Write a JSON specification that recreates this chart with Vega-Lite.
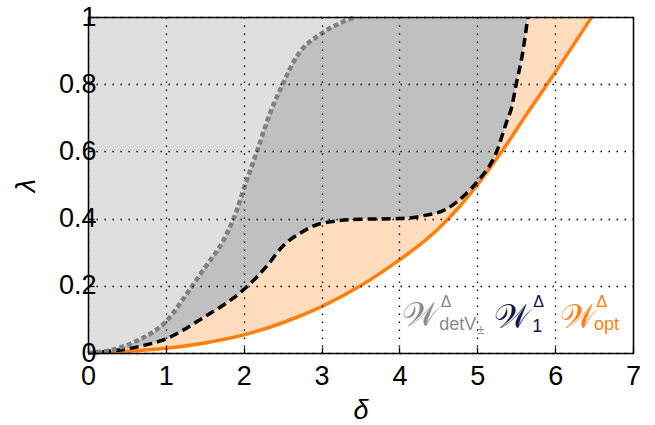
{
  "$schema": "https://vega.github.io/schema/vega-lite/v6.json",
  "width": 545,
  "height": 336,
  "autosize": {"type": "none"},
  "padding": {"left": 88, "top": 17, "right": 22, "bottom": 72},
  "background": "white",
  "config": {"view": {"stroke": null}, "font": "Liberation Sans"},
  "datasets": {
    "opt": [
      {"d": 0, "l": 0}, {"d": 0.5, "l": 0.005}, {"d": 1, "l": 0.014}, {"d": 1.5, "l": 0.03},
      {"d": 2, "l": 0.054}, {"d": 2.5, "l": 0.09}, {"d": 3, "l": 0.138}, {"d": 3.5, "l": 0.2},
      {"d": 4, "l": 0.277}, {"d": 4.25, "l": 0.32}, {"d": 4.5, "l": 0.37}, {"d": 4.75, "l": 0.43},
      {"d": 5, "l": 0.5}, {"d": 5.3, "l": 0.595}, {"d": 5.67, "l": 0.723}, {"d": 6, "l": 0.835},
      {"d": 6.47, "l": 1.0}
    ],
    "one": [
      {"d": 0, "l": 0}, {"d": 0.3, "l": 0.006}, {"d": 0.65, "l": 0.019}, {"d": 1, "l": 0.042},
      {"d": 1.48, "l": 0.105}, {"d": 2.04, "l": 0.197}, {"d": 2.29, "l": 0.257}, {"d": 2.51, "l": 0.32},
      {"d": 2.72, "l": 0.356}, {"d": 3, "l": 0.386}, {"d": 3.5, "l": 0.398}, {"d": 4, "l": 0.4},
      {"d": 4.3, "l": 0.408}, {"d": 4.6, "l": 0.428}, {"d": 4.86, "l": 0.475}, {"d": 5, "l": 0.51},
      {"d": 5.25, "l": 0.6}, {"d": 5.38, "l": 0.69}, {"d": 5.44, "l": 0.73}, {"d": 5.5, "l": 0.8},
      {"d": 5.58, "l": 0.89}, {"d": 5.65, "l": 1.0}
    ],
    "det": [
      {"d": 0, "l": 0}, {"d": 0.3, "l": 0.009}, {"d": 0.65, "l": 0.039}, {"d": 1, "l": 0.093},
      {"d": 1.31, "l": 0.19}, {"d": 1.48, "l": 0.247}, {"d": 1.75, "l": 0.34}, {"d": 1.87, "l": 0.4},
      {"d": 2.04, "l": 0.515}, {"d": 2.17, "l": 0.6}, {"d": 2.34, "l": 0.715}, {"d": 2.5, "l": 0.8},
      {"d": 2.68, "l": 0.882}, {"d": 3, "l": 0.951}, {"d": 3.23, "l": 0.981}, {"d": 3.43, "l": 1.0}
    ],
    "lab": [
      {"x": 4.27, "y": 0.109, "t": "𝒲", "s": "det", "k": "w"},
      {"x": 4.53, "y": 0.138, "t": "Δ", "s": "det", "k": "sup"},
      {"x": 4.51, "y": 0.068, "t": "detV", "s": "det", "k": "sub"},
      {"x": 5.0, "y": 0.056, "t": "±", "s": "det", "k": "subsub"},
      {"x": 5.45, "y": 0.103, "t": "𝒲", "s": "one", "k": "w"},
      {"x": 5.72, "y": 0.138, "t": "Δ", "s": "one", "k": "sup"},
      {"x": 5.705, "y": 0.063, "t": "1", "s": "one", "k": "sub"},
      {"x": 6.29, "y": 0.104, "t": "𝒲", "s": "opt", "k": "w"},
      {"x": 6.53, "y": 0.138, "t": "Δ", "s": "opt", "k": "sup"},
      {"x": 6.5, "y": 0.068, "t": "opt", "s": "opt", "k": "sub"}
    ]
  },
  "resolve": {"axis": {"x": "independent", "y": "independent"}},
  "layer": [
    {
      "data": {"name": "opt"},
      "mark": {"type": "area", "interpolate": "monotone", "color": "#ffdcbe"},
      "encoding": {
        "x": {
          "field": "d", "type": "quantitative",
          "scale": {"domain": [0, 7], "nice": false, "zero": false},
          "axis": {
            "values": [0, 1, 2, 3, 4, 5, 6, 7], "format": "~g",
            "grid": true, "gridColor": "black", "gridDash": [1.5, 6.5], "gridWidth": 1.3, "gridOpacity": 1,
            "domain": true, "domainColor": "black", "domainWidth": 1.5,
            "ticks": true, "tickSize": -6, "tickColor": "black", "tickWidth": 1.3,
            "labelFontSize": 27, "labelColor": "black", "labelPadding": 16, "labelFlush": false,
            "title": "δ", "titleFontSize": 27, "titleFontStyle": "italic", "titleFontWeight": "normal",
            "titleColor": "black", "titleBaseline": "middle", "titleY": 57, "zindex": 1
          }
        },
        "y": {
          "field": "l", "type": "quantitative",
          "scale": {"domain": [0, 1], "nice": false, "zero": false},
          "axis": {
            "values": [0, 0.2, 0.4, 0.6, 0.8, 1], "format": "~g",
            "grid": true, "gridColor": "black", "gridDash": [1.5, 6.5], "gridWidth": 1.3, "gridOpacity": 1,
            "domain": true, "domainColor": "black", "domainWidth": 1.5,
            "ticks": true, "tickSize": -6, "tickColor": "black", "tickWidth": 1.3,
            "labelFontSize": 27, "labelColor": "black", "labelPadding": -2, "labelFlush": false,
            "title": "λ", "titleFontSize": 27, "titleFontStyle": "italic", "titleFontWeight": "normal",
            "titleColor": "black", "titleAngle": 270, "titleAlign": "center", "titleBaseline": "middle",
            "titleX": -62, "titleY": 168, "zindex": 1
          }
        },
        "y2": {"datum": 1}
      }
    },
    {
      "data": {"name": "one"},
      "mark": {"type": "area", "interpolate": "monotone", "color": "#c0c0c0"},
      "encoding": {
        "x": {"field": "d", "type": "quantitative", "axis": null},
        "y": {"field": "l", "type": "quantitative", "axis": null},
        "y2": {"datum": 1}
      }
    },
    {
      "data": {"name": "det"},
      "mark": {"type": "area", "interpolate": "monotone", "color": "#dfdfdf"},
      "encoding": {
        "x": {"field": "d", "type": "quantitative", "axis": null},
        "y": {"field": "l", "type": "quantitative", "axis": null},
        "y2": {"datum": 1}
      }
    },
    {
      "data": {"name": "opt"},
      "mark": {"type": "line", "interpolate": "monotone", "color": "#ff7f0e", "strokeWidth": 3.5},
      "encoding": {
        "x": {"field": "d", "type": "quantitative", "axis": {"orient": "top", "labels": false, "ticks": false, "grid": false, "domain": true, "domainColor": "black", "domainWidth": 1.5, "title": null, "zindex": 1}},
        "y": {"field": "l", "type": "quantitative", "axis": {"orient": "right", "labels": false, "ticks": false, "grid": false, "domain": true, "domainColor": "black", "domainWidth": 1.5, "title": null, "zindex": 1}}
      }
    },
    {
      "data": {"name": "one"},
      "mark": {"type": "line", "interpolate": "monotone", "color": "black", "strokeWidth": 3.5, "strokeDash": [9, 5]},
      "encoding": {
        "x": {"field": "d", "type": "quantitative", "axis": null},
        "y": {"field": "l", "type": "quantitative", "axis": null}
      }
    },
    {
      "data": {"name": "det"},
      "mark": {"type": "line", "interpolate": "monotone", "color": "#808080", "strokeWidth": 4.5, "strokeDash": [5, 3]},
      "encoding": {
        "x": {"field": "d", "type": "quantitative", "axis": null},
        "y": {"field": "l", "type": "quantitative", "axis": null}
      }
    },
    {
      "data": {"name": "lab"},
      "transform": [{"filter": "datum.k == 'w'"}],
      "mark": {"type": "text", "fontSize": 34, "align": "center", "baseline": "middle", "font": "DejaVu Sans"},
      "encoding": {
        "x": {"field": "x", "type": "quantitative", "axis": null},
        "y": {"field": "y", "type": "quantitative", "axis": null},
        "text": {"field": "t"},
        "color": {"field": "s", "type": "nominal", "scale": {"domain": ["det", "one", "opt"], "range": ["#8a8a8a", "#141446", "#ff7f0e"]}, "legend": null}
      }
    },
    {
      "data": {"name": "lab"},
      "transform": [{"filter": "datum.k == 'sup'"}],
      "mark": {"type": "text", "fontSize": 16, "align": "left", "baseline": "alphabetic"},
      "encoding": {
        "x": {"field": "x", "type": "quantitative", "axis": null},
        "y": {"field": "y", "type": "quantitative", "axis": null},
        "text": {"field": "t"},
        "color": {"field": "s", "type": "nominal", "legend": null}
      }
    },
    {
      "data": {"name": "lab"},
      "transform": [{"filter": "datum.k == 'sub'"}],
      "mark": {"type": "text", "fontSize": 18, "align": "left", "baseline": "alphabetic"},
      "encoding": {
        "x": {"field": "x", "type": "quantitative", "axis": null},
        "y": {"field": "y", "type": "quantitative", "axis": null},
        "text": {"field": "t"},
        "color": {"field": "s", "type": "nominal", "legend": null}
      }
    },
    {
      "data": {"name": "lab"},
      "transform": [{"filter": "datum.k == 'subsub'"}],
      "mark": {"type": "text", "fontSize": 13, "align": "left", "baseline": "alphabetic"},
      "encoding": {
        "x": {"field": "x", "type": "quantitative", "axis": null},
        "y": {"field": "y", "type": "quantitative", "axis": null},
        "text": {"field": "t"},
        "color": {"field": "s", "type": "nominal", "legend": null}
      }
    }
  ]
}
